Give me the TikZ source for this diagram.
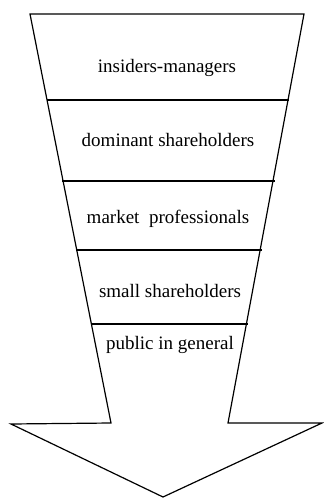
\documentclass[tikz,border=0pt]{standalone}
\usepackage{fontspec}
\setmainfont{Liberation Serif}
\begin{document}
\begin{tikzpicture}[x=1pt,y=-1pt,
  outline/.style={draw=black,line width=1.2pt,line join=miter},
  divider/.style={draw=black,line width=1.2pt},
  label/.style={font=\fontsize{19}{22}\selectfont,inner sep=0pt}]
\useasboundingbox (0,0) rectangle (324,499);
% corners
\coordinate (tl) at (30,14);
\coordinate (tr) at (304,14);
\coordinate (il) at (111,423);
\coordinate (ir) at (228,423);
\coordinate (ol) at (11,424);
\coordinate (or) at (322,423);
\coordinate (tip) at (163,497);
\draw[outline] (tl) -- (tr) -- (ir) -- (or) -- (tip) -- (ol) -- (il) -- cycle;
% dividers
\coordinate (d1l) at (47,100);  \coordinate (d1r) at (289,100);
\coordinate (d2l) at (62,181);  \coordinate (d2r) at (275,181);
\coordinate (d3l) at (76,250);  \coordinate (d3r) at (262,250);
\coordinate (d4l) at (92,324);  \coordinate (d4r) at (248,324);
\draw[divider] (d1l) -- (d1r);
\draw[divider] (d2l) -- (d2r);
\draw[divider] (d3l) -- (d3r);
\draw[divider] (d4l) -- (d4r);
% labels
\node[label] (n1) at (167,68) {insiders-managers};
\node[label] (n2) at (168,140) {dominant shareholders};
\node[label] (n3) at (168,219) {market\ \ professionals};
\node[label] (n4) at (170,291) {small shareholders};
\node[label] (n5) at (170,345) {public in general};
\end{tikzpicture}
\end{document}
